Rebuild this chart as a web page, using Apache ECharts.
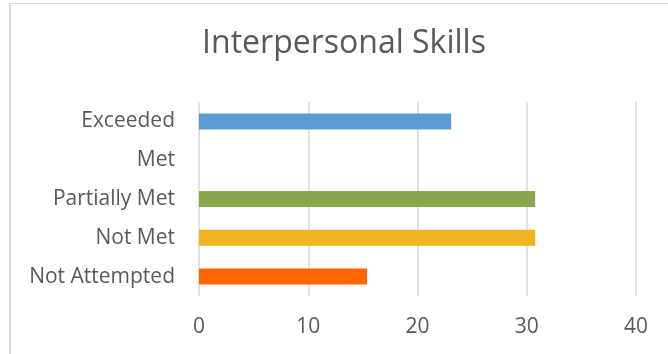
<!DOCTYPE html>
<html>
<head>
<meta charset="utf-8">
<script src="https://cdn.jsdelivr.net/npm/echarts@6/dist/echarts.min.js"></script>
<style>
  html, body { margin: 0; padding: 0; background: #ffffff; }
  #chart { width: 668px; height: 354px; }
</style>
</head>
<body>
<div id="chart"></div>
<script>
// Outcome levels, listed bottom to top
const categories = ['Not Attempted', 'Not Met', 'Partially Met', 'Met', 'Exceeded'];
const values = [15.38, 30.77, 30.77, 0, 23.08];
const barColors = ['#FF6600', '#EEB422', '#8AA74D', '#A5A5A5', '#5B9BD5'];
const xTicks = { min: 0, max: 40, interval: 10 };

const textColor = '#595959';
const fontFamily = '"Open Sans", Lato, sans-serif';

const chart = echarts.init(document.getElementById('chart'), null, { renderer: 'canvas' });

chart.setOption({
  backgroundColor: '#ffffff',
  animation: false,
  title: {
    text: 'Interpersonal Skills',
    left: 339,
    top: 23,
    textAlign: 'center',
    textStyle: { color: textColor, fontFamily, fontSize: 32, fontWeight: 'normal' }
  },
  grid: { left: 199, right: 32, top: 102, bottom: 58 },
  xAxis: {
    type: 'value',
    min: xTicks.min,
    max: xTicks.max,
    interval: xTicks.interval,
    axisLine: { show: false },
    axisTick: { show: false },
    splitLine: { lineStyle: { color: '#D9D9D9', width: 1.5 } },
    axisLabel: { color: textColor, fontFamily, fontSize: 21, margin: 21 }
  },
  yAxis: {
    type: 'category',
    data: categories,
    axisLine: { show: false },
    axisTick: { show: false },
    axisLabel: { color: textColor, fontFamily, fontSize: 21, margin: 24 }
  },
  series: [{
    type: 'bar',
    barWidth: 16,
    data: values.map((v, i) => ({ value: v, itemStyle: { color: barColors[i] } }))
  }],
  graphic: [
    { type: 'line', silent: true, shape: { x1: 10, y1: 3, x2: 10, y2: 354 }, style: { stroke: '#D9D9D9', lineWidth: 2 } },
    { type: 'line', silent: true, shape: { x1: 10, y1: 3.5, x2: 668, y2: 3.5 }, style: { stroke: '#D9D9D9', lineWidth: 1 } }
  ]
});
</script>
</body>
</html>
